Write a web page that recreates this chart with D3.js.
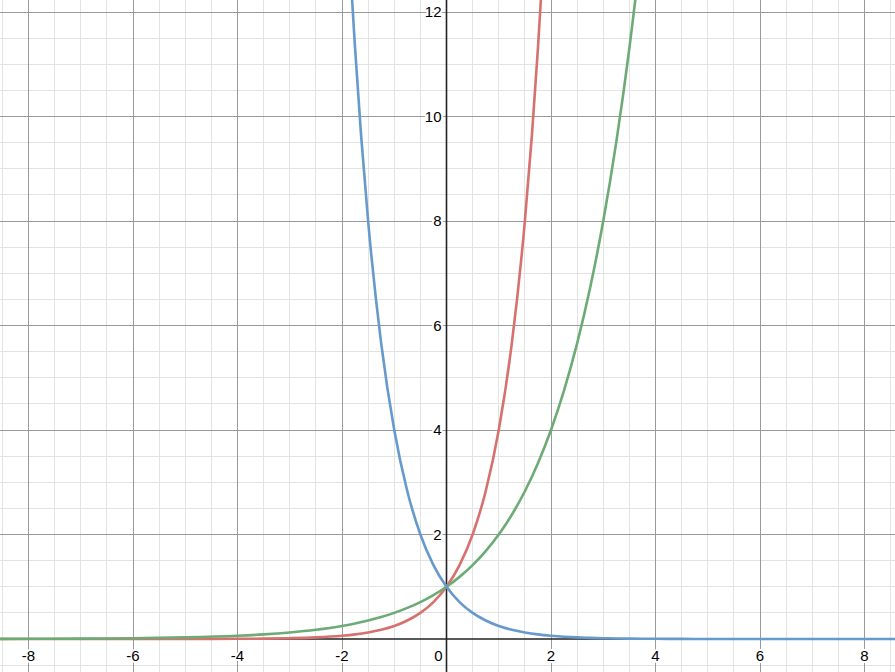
<!DOCTYPE html>
<html>
<head>
<meta charset="utf-8">
<script src="https://cdn.jsdelivr.net/npm/d3@7"></script>
<style>
  html, body { margin: 0; padding: 0; background: #fff; }
  svg { display: block; }
  text { font-family: "Liberation Sans", Arial, sans-serif; }
</style>
</head>
<body>
<svg id="chart" width="895" height="672"></svg>
<script>
// ---- data ----
const xValues = [-9, -8, -7, -6, -5, -4, -3.5, -3, -2.5, -2, -1.75, -1.5, -1.25, -1, -0.75, -0.5, -0.25,
  0, 0.25, 0.5, 0.75, 1, 1.25, 1.5, 1.75, 2, 2.25, 2.5, 2.75, 3, 3.25, 3.5, 3.75, 4, 4.5, 5, 6, 7, 8, 9];

// red curve (steepest rising)
const redValues = [0.000004, 0.000015, 0.00006, 0.00024, 0.001, 0.0039, 0.0078, 0.0156, 0.031, 0.0625,
  0.088, 0.125, 0.177, 0.25, 0.354, 0.5, 0.707,
  1, 1.414, 2, 2.828, 4, 5.657, 8, 11.31, 16, 22.6, 32, null, null, null, null, null, null, null, null, null, null, null, null];

// green curve (slower rising)
const greenValues = [0.002, 0.0039, 0.0078, 0.0156, 0.031, 0.0625, 0.088, 0.125, 0.177, 0.25,
  0.297, 0.354, 0.42, 0.5, 0.595, 0.707, 0.841,
  1, 1.189, 1.414, 1.682, 2, 2.378, 2.828, 3.364, 4, 4.757, 5.657, 6.727, 8, 9.514, 11.31, 13.45, 16, 22.6, null, null, null, null, null];

// blue curve (falling)
const blueValues = [null, null, null, null, null, null, null, 64, 32, 16,
  11.31, 8, 5.657, 4, 2.828, 2, 1.414,
  1, 0.707, 0.5, 0.354, 0.25, 0.177, 0.125, 0.088, 0.0625, 0.044, 0.031, 0.022, 0.0156, 0.011, 0.0078, 0.0055, 0.0039, 0.002, 0.001, 0.00024, 0.00006, 0.000015, 0.000004];

const xTickLabels = [-8, -6, -4, -2, 2, 4, 6, 8];
const yTickLabels = [2, 4, 6, 8, 10, 12];
const zeroLabel = "0";

// ---- layout ----
const W = 895, H = 672;
const x0px = 446.5, y0px = 639, unit = 52.25;
const xDomain = [-x0px / unit, (W - x0px) / unit];
const yDomain = [(y0px - H) / unit, y0px / unit];

const x = d3.scaleLinear().domain(xDomain).range([0, W]);
const y = d3.scaleLinear().domain(yDomain).range([H, 0]);

const svg = d3.select("#chart");
svg.append("rect").attr("width", W).attr("height", H).attr("fill", "#fff");

// minor grid (every 0.5)
const minorX = d3.range(Math.ceil(xDomain[0] * 2) / 2, xDomain[1], 0.5);
const minorY = d3.range(Math.ceil(yDomain[0] * 2) / 2, yDomain[1], 0.5);
const grid = svg.append("g").attr("shape-rendering", "crispEdges");
grid.selectAll("line.mx").data(minorX.filter(v => Math.abs(v % 2) > 1e-9)).join("line")
  .attr("x1", d => x(d)).attr("x2", d => x(d)).attr("y1", 0).attr("y2", H)
  .attr("stroke", "#e3e3e3").attr("stroke-width", 1);
grid.selectAll("line.my").data(minorY.filter(v => Math.abs(v % 2) > 1e-9)).join("line")
  .attr("y1", d => y(d)).attr("y2", d => y(d)).attr("x1", 0).attr("x2", W)
  .attr("stroke", "#e3e3e3").attr("stroke-width", 1);

// major grid (every 2)
const majorX = d3.range(Math.ceil(xDomain[0] / 2) * 2, xDomain[1], 2).filter(v => v !== 0);
const majorY = d3.range(Math.ceil(yDomain[0] / 2) * 2, yDomain[1], 2).filter(v => v !== 0);
grid.selectAll("line.MX").data(majorX).join("line")
  .attr("x1", d => x(d)).attr("x2", d => x(d)).attr("y1", 0).attr("y2", H)
  .attr("stroke", "#9a9a9a").attr("stroke-width", 1);
grid.selectAll("line.MY").data(majorY).join("line")
  .attr("y1", d => y(d)).attr("y2", d => y(d)).attr("x1", 0).attr("x2", W)
  .attr("stroke", "#9a9a9a").attr("stroke-width", 1);

// axes
svg.append("line").attr("x1", 0).attr("x2", W).attr("y1", y(0)).attr("y2", y(0))
  .attr("stroke", "#222").attr("stroke-width", 1.6);
svg.append("line").attr("x1", x(0)).attr("x2", x(0)).attr("y1", 0).attr("y2", H)
  .attr("stroke", "#222").attr("stroke-width", 1.6);

// labels
const labels = svg.append("g").attr("font-size", 15).attr("fill", "#000")
  .attr("stroke", "#fff").attr("stroke-width", 4).attr("paint-order", "stroke").attr("stroke-linejoin", "round");
labels.selectAll("text.xl").data(xTickLabels).join("text")
  .attr("x", d => x(d)).attr("y", y(0) + 17).attr("dy", "0.35em")
  .attr("text-anchor", "middle").text(d => d < 0 ? "-" + Math.abs(d) : d);
labels.selectAll("text.yl").data(yTickLabels).join("text")
  .attr("x", x(0) - 5).attr("y", d => y(d)).attr("dy", "0.35em")
  .attr("text-anchor", "end").text(d => d);
labels.append("text").attr("x", x(0) - 4).attr("y", y(0) + 17).attr("dy", "0.35em")
  .attr("text-anchor", "end").text(zeroLabel);

// curves
svg.append("clipPath").attr("id", "clip").append("rect").attr("width", W).attr("height", H);
const curves = svg.append("g").attr("clip-path", "url(#clip)");
const series = [
  { values: redValues, color: "#d6716e" },
  { values: greenValues, color: "#6dab76" },
  { values: blueValues, color: "#6699cc" }
];
const line = d3.line()
  .defined(d => d[1] !== null)
  .x(d => x(d[0])).y(d => y(d[1]))
  .curve(d3.curveMonotoneX);
series.forEach(s => {
  const pts = xValues.map((xv, i) => [xv, s.values[i]]);
  curves.append("path").attr("d", line(pts))
    .attr("fill", "none").attr("stroke", s.color).attr("stroke-width", 2.6)
    .attr("stroke-linejoin", "round").attr("stroke-linecap", "round");
});
</script>
</body>
</html>
